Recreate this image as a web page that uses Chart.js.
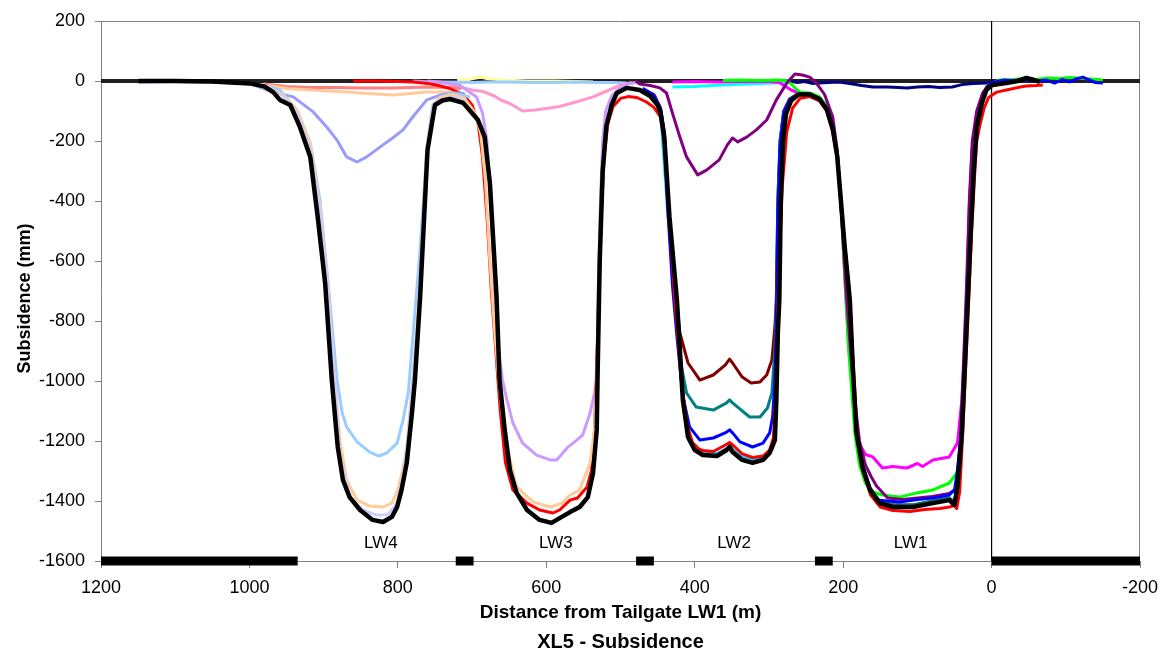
<!DOCTYPE html>
<html>
<head>
<meta charset="utf-8">
<title>XL5 - Subsidence</title>
<script src="https://cdn.jsdelivr.net/npm/chart.js@4.4.1/dist/chart.umd.min.js"></script>
<style>
  html, body { margin: 0; padding: 0; background: #fff; }
  #wrap { width: 1163px; height: 656px; }
</style>
</head>
<body>
<div id="wrap"><canvas id="subsChart" width="1163" height="656"></canvas></div>
<script>
// axis ticks
const xTicks = [1200, 1000, 800, 600, 400, 200, 0, -200];
const yTicks = [200, 0, -200, -400, -600, -800, -1000, -1200, -1400, -1600];

// panel labels
const lwLabels = ['LW4', 'LW3', 'LW2', 'LW1'];
const lwLabelX = [823, 587, 347, 109];
const lwLabelY = -1540;

// solid coal (black bars along the bottom)
const pillarFrom = [1200, 722, 479, 238, 0];
const pillarTo = [935, 698, 455, 214, -200];

// survey lines (distance m, subsidence mm)
const navyX = [272,262,252,242,232,220,205,187,175,160,140,125,114,100,85,70,53,40,25,7,-3];
const navyY = [0,-5,-2,-8,-7,-5,-3,-10,-15,-20,-20,-22,-23,-20,-18,-22,-20,-12,-8,-7,-2];

const cyanX = [430,400,362,330,295,276];
const cyanY = [-20,-18,-13,-10,-7,-3];

const magentaX = [430,400,370,340,300,286,270,260,245,232,222,214,208,203,198,193,188,184,178,170,160,147,133,114,100,93,79,57,46,40,36,33,30,26,20,12,5,-5];
const magentaY = [-3,-2,-3,-2,-2,-5,-30,-40,-42,-55,-85,-150,-240,-410,-640,-870,-1020,-1140,-1210,-1245,-1253,-1290,-1285,-1290,-1275,-1285,-1263,-1253,-1207,-1063,-880,-680,-420,-220,-110,-45,-15,-3];

const greenX = [362,340,310,290,275,266,258,245,232,222,214,208,203,198,193,188,184,178,170,160,147,124,101,79,57,47,43,39,36,32,28,22,14,6,-10,-30,-45,-60,-75,-90,-105,-120,-135,-150];
const greenY = [2,3,2,3,1,-20,-38,-40,-52,-85,-150,-240,-410,-640,-880,-1050,-1180,-1280,-1340,-1370,-1380,-1387,-1373,-1363,-1340,-1307,-1263,-1100,-900,-650,-400,-180,-60,-15,3,5,8,5,10,8,12,9,7,3];

const purpleX = [480,474,460,447,438,430,420,411,396,384,367,356,349,342,330,317,303,290,276,265,255,245,236,225,214,208,202,196,190,185,178,170,162,155,140,120,100,80,57,48,42,38,34,30,26,20,12,5,-5];
const purpleY = [0,-10,-15,-23,-40,-107,-187,-253,-313,-297,-263,-213,-190,-203,-187,-163,-130,-63,-7,23,20,13,-7,-45,-120,-230,-450,-700,-900,-1050,-1200,-1280,-1320,-1350,-1390,-1395,-1390,-1385,-1375,-1360,-1200,-950,-700,-400,-200,-100,-40,-15,-5];

const maroonX = [470,455,446,441,436,430,424,420,409,393,375,359,353,349,336,324,312,303,296,292,290,288,285,280,272,260,245,232,222,214,208,203,198,191,187,182,174,164,151,133,106,79,57,50,46,40,36,32,28,24,20,13,7,0];
const maroonY = [-25,-45,-90,-170,-400,-600,-750,-840,-940,-997,-980,-947,-927,-940,-987,-1007,-1003,-980,-930,-820,-730,-400,-200,-100,-60,-42,-42,-58,-92,-155,-245,-395,-545,-725,-945,-1165,-1280,-1355,-1400,-1413,-1413,-1400,-1390,-1405,-1345,-1165,-945,-725,-495,-295,-150,-70,-28,-8];

const tealX = [470,455,446,441,436,430,424,418,411,398,375,357,353,349,326,312,302,296,292,290,288,285,280,272,260,245,232,222,214,208,203,198,191,187,182,174,164,151,133,106,79,57,50,46,40,36,32,28,24,20,13,7,0];
const tealY = [-25,-48,-92,-175,-420,-640,-800,-950,-1040,-1087,-1097,-1073,-1063,-1073,-1120,-1120,-1090,-1040,-897,-730,-400,-200,-100,-60,-42,-42,-58,-92,-155,-245,-395,-545,-725,-945,-1165,-1280,-1355,-1400,-1413,-1413,-1400,-1390,-1405,-1345,-1165,-945,-725,-495,-295,-150,-70,-28,-8];

const skyX = [446,436,424,416,409,400,389,370,357,353,349,336,322,308,299,292,288,285,280];
const skyY = [-100,-450,-740,-1060,-1180,-1225,-1240,-1242,-1225,-1215,-1228,-1255,-1262,-1255,-1230,-1185,-840,-400,-150];

const blueX = [470,455,446,441,436,430,424,416,407,393,375,359,353,349,339,322,308,299,295,292,290,288,285,280,272,260,245,232,222,214,208,203,198,191,187,182,174,164,155,140,124,100,79,57,50,46,40,36,32,28,24,20,13,7,0,-15,-30,-45,-60,-74,-85,-95,-105,-115,-123,-130,-140,-150];
const blueY = [-25,-48,-95,-180,-440,-680,-850,-1050,-1153,-1197,-1190,-1173,-1163,-1173,-1203,-1220,-1207,-1173,-1120,-1000,-800,-450,-220,-105,-62,-44,-44,-60,-94,-158,-248,-398,-548,-728,-948,-1168,-1283,-1360,-1397,-1400,-1403,-1395,-1390,-1380,-1363,-1300,-1150,-940,-720,-490,-290,-148,-68,-26,-6,3,2,5,0,3,-7,5,-3,8,13,5,-5,-7];

const yellowX = [720,705,695,688,680,660,626,590,560,537];
const yellowY = [3,5,10,13,8,3,0,0,-2,-3];

const paleBlueX = [760,740,700,680,650,620,590,560,530,510,492];
const paleBlueY = [-3,-3,-5,-3,-3,-5,-5,-3,-5,-5,-7];

const pinkX = [760,740,717,700,685,670,660,649,632,615,600,582,560,537,520,501,485];
const pinkY = [0,-5,-20,-30,-35,-50,-65,-75,-100,-97,-92,-85,-70,-53,-35,-15,-5];

const salmonX = [980,950,918,880,851,807,761,734,715];
const salmonY = [-10,-18,-22,-22,-23,-23,-20,-22,-25];

const tanX = [975,950,918,880,851,807,761,734,715];
const tanY = [-15,-25,-30,-35,-40,-47,-37,-37,-40];

const violetX = [780,740,717,694,686,680,676,672,669,664,659,653,645,632,613,595,586,572,559,551,541,535,532,530,527,524,520,512,500,490,480];
const violetY = [0,-5,-13,-53,-107,-197,-350,-550,-750,-900,-997,-1063,-1140,-1207,-1247,-1263,-1263,-1223,-1197,-1180,-1107,-1040,-997,-700,-400,-200,-100,-50,-20,-10,-5];

const redX = [860,830,800,780,760,745,730,712,700,692,686,680,674,668,662,655,645,626,609,591,582,568,558,545,539,535,532,529,526,522,517,510,500,490,478,465,455,446,441,434,426,418,410,403,395,389,375,360,353,348,336,322,308,299,294,291,289,286,282,276,268,258,245,232,222,214,208,203,198,191,186,181,173,163,150,133,110,90,70,57,50,47,43,39,35,31,27,23,20,16,10,4,-7,-20,-35,-47,-60,-69];
const redY = [0,0,-2,-3,-8,-15,-25,-45,-80,-140,-250,-450,-700,-900,-1100,-1273,-1363,-1407,-1430,-1440,-1430,-1397,-1390,-1353,-1297,-1163,-950,-700,-450,-250,-140,-85,-58,-52,-55,-70,-88,-120,-200,-470,-750,-1000,-1150,-1205,-1225,-1232,-1235,-1215,-1205,-1215,-1243,-1255,-1250,-1230,-1190,-1060,-840,-600,-350,-170,-90,-58,-52,-66,-100,-170,-260,-410,-560,-740,-960,-1180,-1300,-1380,-1420,-1432,-1435,-1428,-1425,-1420,-1415,-1425,-1370,-1180,-960,-740,-510,-320,-200,-150,-90,-55,-37,-30,-22,-17,-15,-13];

const periwinkleX = [1150,1100,1050,1000,968,941,914,896,882,869,855,842,820,807,793,780,761,743,726,710];
const periwinkleY = [-3,-2,-3,-8,-37,-53,-103,-153,-197,-253,-270,-253,-213,-190,-163,-120,-63,-47,-40,-42];

const lightBlueX = [1150,1050,1000,980,959,936,918,905,894,882,875,869,855,838,826,815,801,793,786,778,770,761,753,743,726,703];
const lightBlueY = [0,-3,-8,-15,-30,-97,-207,-397,-673,-997,-1107,-1153,-1203,-1237,-1250,-1240,-1207,-1130,-1040,-800,-563,-230,-87,-53,-40,-53];

const peachX = [1150,1050,1000,975,955,935,918,905,894,885,878,869,855,838,820,808,800,794,788,782,777,770,761,753,743,726,710,695,688,682,676,669,664,659,653,640,618,595,579,568,555,541,535,532,529,526,522,516,508,500];
const peachY = [0,-3,-8,-20,-45,-100,-210,-420,-690,-1000,-1200,-1330,-1397,-1417,-1420,-1407,-1363,-1300,-1220,-1050,-900,-680,-220,-80,-55,-45,-58,-110,-180,-330,-600,-850,-1000,-1120,-1220,-1353,-1403,-1420,-1407,-1380,-1363,-1273,-1163,-1000,-700,-420,-220,-110,-55,-30];

const lavenderX = [1150,1050,1000,975,955,935,918,905,894,885,878,865,847,829,814,801,795,789,783,778,770,761,753,743,726,710];
const lavenderY = [0,-3,-8,-22,-50,-110,-230,-440,-700,-1010,-1250,-1387,-1430,-1447,-1447,-1407,-1340,-1250,-1100,-950,-700,-225,-80,-62,-55,-65];

const blackX = [1150,1100,1050,1000,980,968,959,945,932,918,908,898,889,881,874,865,851,834,820,808,801,795,788,781,777,770,760,750,740,730,712,692,683,676,667,663,656,649,640,626,609,593,582,568,555,544,537,532,531,528,524,519,512,505,492,474,460,450,446,441,434,424,416,409,400,389,370,357,353,349,336,322,308,299,292,290,288,286,284,281,277,270,260,245,232,222,214,208,203,198,191,187,182,174,164,151,133,106,79,57,50,46,40,36,32,28,24,20,13,7,-1,-20,-35,-47,-55,-65];
const blackY = [0,0,-2,-8,-18,-37,-63,-80,-153,-253,-453,-673,-997,-1220,-1330,-1387,-1430,-1463,-1470,-1453,-1420,-1363,-1273,-1107,-997,-720,-230,-80,-65,-60,-73,-130,-187,-340,-720,-997,-1163,-1297,-1373,-1430,-1463,-1473,-1457,-1437,-1420,-1387,-1307,-1163,-997,-600,-300,-150,-80,-40,-23,-30,-50,-80,-107,-187,-453,-730,-1063,-1187,-1230,-1247,-1250,-1230,-1220,-1237,-1263,-1273,-1263,-1240,-1197,-1063,-840,-730,-400,-200,-110,-65,-45,-45,-60,-95,-160,-250,-400,-550,-730,-953,-1173,-1287,-1363,-1407,-1420,-1420,-1407,-1397,-1413,-1353,-1173,-953,-730,-500,-300,-153,-73,-30,-13,-7,0,10,5,-3];

const seriesList = [
  { x: navyX, y: navyY, color: '#000080' },
  { x: cyanX, y: cyanY, color: '#00FFFF' },
  { x: magentaX, y: magentaY, color: '#FF00FF' },
  { x: greenX, y: greenY, color: '#00FF00' },
  { x: purpleX, y: purpleY, color: '#800080' },
  { x: maroonX, y: maroonY, color: '#800000' },
  { x: tealX, y: tealY, color: '#008080' },
  { x: skyX, y: skyY, color: '#00CCFF' },
  { x: blueX, y: blueY, color: '#0000FF' },
  { x: yellowX, y: yellowY, color: '#FFFF99' },
  { x: paleBlueX, y: paleBlueY, color: '#99CCFF' },
  { x: pinkX, y: pinkY, color: '#FF99CC' },
  { x: salmonX, y: salmonY, color: '#FF8080' },
  { x: tanX, y: tanY, color: '#FFCC99' },
  { x: violetX, y: violetY, color: '#CC99FF' },
  { x: redX, y: redY, color: '#FF0000' },
  { x: periwinkleX, y: periwinkleY, color: '#9999FF' },
  { x: lightBlueX, y: lightBlueY, color: '#99CCFF' },
  { x: peachX, y: peachY, color: '#FFCC99' },
  { x: lavenderX, y: lavenderY, color: '#CCCCFF' },
  { x: blackX, y: blackY, color: '#000000', width: 4.5 }
];

const toPoints = (xs, ys) => xs.map((x, i) => ({ x: x, y: ys[i] }));

const datasets = [];
// zero line and the x = 0 marker
datasets.push({ data: [{ x: 1200, y: 0 }, { x: -200, y: 0 }], borderColor: '#231F20', borderWidth: 4 });
datasets.push({ data: [{ x: 0, y: 200 }, { x: 0, y: -1600 }], borderColor: '#000000', borderWidth: 1 });
seriesList.forEach(s => {
  datasets.push({ data: toPoints(s.x, s.y), borderColor: s.color, borderWidth: s.width || 3 });
});
pillarFrom.forEach((f, i) => {
  datasets.push({
    data: [{ x: f, y: -1600 }, { x: pillarTo[i], y: -1600 }],
    borderColor: '#000000', borderWidth: 9, borderCapStyle: 'butt', clip: false
  });
});
// later datasets drawn on top
datasets.forEach((d, i) => {
  d.order = datasets.length - i;
  d.pointRadius = 0;
  d.tension = 0;
  d.fill = false;
  d.borderJoinStyle = 'round';
});

const FONT = 'Liberation Sans, Arial, sans-serif';

const extras = {
  id: 'extras',
  beforeDatasetsDraw(chart) {
    const { ctx, chartArea: a } = chart;
    ctx.save();
    ctx.strokeStyle = '#808080';
    ctx.lineWidth = 1;
    ctx.beginPath();
    ctx.moveTo(a.left, a.top + 0.5);
    ctx.lineTo(a.right - 0.5, a.top + 0.5);
    ctx.lineTo(a.right - 0.5, a.bottom);
    ctx.stroke();
    ctx.restore();
  },
  afterDatasetsDraw(chart) {
    const { ctx, scales } = chart;
    ctx.save();
    ctx.fillStyle = '#000';
    ctx.font = '17px ' + FONT;
    ctx.textAlign = 'center';
    ctx.textBaseline = 'middle';
    lwLabels.forEach((t, i) => {
      ctx.fillText(t, scales.x.getPixelForValue(lwLabelX[i]), scales.y.getPixelForValue(lwLabelY));
    });
    ctx.restore();
  }
};

new Chart(document.getElementById('subsChart'), {
  type: 'line',
  data: { datasets: datasets },
  plugins: [extras],
  options: {
    responsive: false,
    animation: false,
    devicePixelRatio: 1,
    layout: { padding: { top: 21, right: 23, left: 0, bottom: 0 } },
    plugins: {
      legend: { display: false },
      tooltip: { enabled: false },
      title: {
        display: true,
        text: 'XL5 - Subsidence',
        position: 'bottom',
        fullSize: false,
        color: '#000',
        font: { family: FONT, size: 20, weight: 'bold', lineHeight: 1.2 },
        padding: { top: 3, bottom: 2 }
      }
    },
    scales: {
      x: {
        type: 'linear',
        reverse: true,
        min: -200,
        max: 1200,
        afterBuildTicks: s => { s.ticks = xTicks.map(v => ({ value: v })); },
        afterFit: s => { s.height = 66; s.paddingLeft = 0; s.paddingRight = 0; },
        ticks: { color: '#000', font: { family: FONT, size: 18 }, padding: 9, maxRotation: 0, autoSkip: false, callback: v => String(v) },
        grid: { display: true, drawOnChartArea: false, drawTicks: true, tickLength: 7, color: '#808080' },
        border: { color: '#808080' },
        title: { display: true, text: 'Distance from Tailgate LW1 (m)', color: '#000', font: { family: FONT, size: 19, weight: 'bold', lineHeight: 1.2 }, padding: { top: 0, bottom: 3 } }
      },
      y: {
        type: 'linear',
        min: -1600,
        max: 200,
        afterBuildTicks: s => { s.ticks = yTicks.map(v => ({ value: v })); },
        afterFit: s => { s.width = 101; },
        ticks: { color: '#000', font: { family: FONT, size: 18 }, padding: 10, autoSkip: false, callback: v => String(v) },
        grid: { display: true, drawOnChartArea: false, drawTicks: true, tickLength: 6, color: '#808080' },
        border: { color: '#808080' },
        title: { display: true, text: 'Subsidence (mm)   ', color: '#000', font: { family: FONT, size: 18, weight: 'bold', lineHeight: 1.2 }, padding: { top: 14, bottom: 4 } }
      }
    }
  }
});
</script>
</body>
</html>
